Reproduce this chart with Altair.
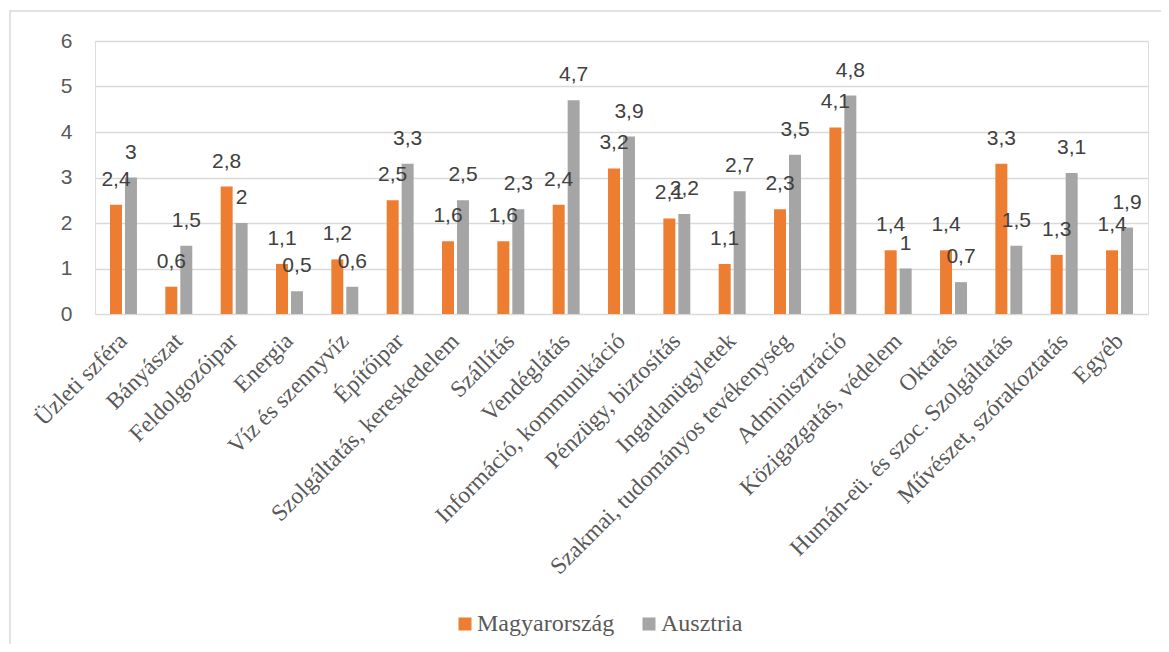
import altair as alt
import pandas as pd

categories = [
    "Üzleti szféra", "Bányászat", "Feldolgozóipar", "Energia", "Víz és szennyvíz",
    "Építőipar", "Szolgáltatás, kereskedelem", "Szállítás", "Vendéglátás",
    "Információ, kommunikáció", "Pénzügy, biztosítás", "Ingatlanügyletek",
    "Szakmai, tudományos tevékenység", "Adminisztráció", "Közigazgatás, védelem",
    "Oktatás", "Humán-eü. és szoc. Szolgáltatás", "Művészet, szórakoztatás", "Egyéb",
]
magyarorszag = [2.4, 0.6, 2.8, 1.1, 1.2, 2.5, 1.6, 1.6, 2.4, 3.2, 2.1, 1.1, 2.3, 4.1, 1.4, 1.4, 3.3, 1.3, 1.4]
ausztria = [3.0, 1.5, 2.0, 0.5, 0.6, 3.3, 2.5, 2.3, 4.7, 3.9, 2.2, 2.7, 3.5, 4.8, 1.0, 0.7, 1.5, 3.1, 1.9]
series = ["Magyarország", "Ausztria"]
colors = ["#ED7D31", "#A5A5A5"]


def fmt(v):
    s = f"{v:g}"
    return s.replace(".", ",")


rows = []
for c, m, a in zip(categories, magyarorszag, ausztria):
    rows.append({"cat": c, "series": series[0], "value": m, "label": fmt(m)})
    rows.append({"cat": c, "series": series[1], "value": a, "label": fmt(a)})
df = pd.DataFrame(rows)

x_enc = alt.X(
    "cat:N", sort=categories, title=None,
    scale=alt.Scale(paddingInner=0.459, paddingOuter=0.244),
    axis=alt.Axis(
        labelAngle=-45, labelAlign="right", labelBaseline="middle",
        labelFont="Liberation Serif", labelFontSize=23.5, labelColor="#595959",
        labelPadding=23, domain=False, ticks=False, labelLimit=400,
    ),
)
xoff = alt.XOffset("series:N", sort=series, scale=alt.Scale(paddingInner=0.2, paddingOuter=0.1))
y_enc = alt.Y(
    "value:Q", title=None,
    scale=alt.Scale(domain=[0, 6]),
    axis=alt.Axis(
        values=[0, 1, 2, 3, 4, 5, 6], labelFont="Liberation Sans", labelFontSize=21,
        labelColor="#595959", labelPadding=23, domain=False, ticks=False,
        gridColor="#D9D9D9", gridWidth=1.4,
    ),
)

bars = alt.Chart(df).mark_bar().encode(
    x=x_enc,
    xOffset=xoff,
    y=y_enc,
    color=alt.Color(
        "series:N", sort=series, scale=alt.Scale(domain=series, range=colors),
        legend=alt.Legend(
            title=None, orient="none", direction="horizontal", legendX=358, legendY=571,
            symbolType="square", symbolSize=169, symbolStrokeWidth=0,
            labelFont="Liberation Serif", labelFontSize=24, labelColor="#595959",
            labelOffset=0, columnPadding=22, padding=0,
        ),
    ),
)

labels = alt.Chart(df).mark_text(
    font="Liberation Sans", fontSize=21, color="#404040", baseline="middle", dy=-25,
).encode(
    x=alt.X("cat:N", sort=categories),
    xOffset=alt.XOffset("series:N", sort=series),
    y=alt.Y("value:Q"),
    text="label:N",
)

border = alt.Chart(alt.Data(values=[{}])).mark_rect(
    fill="transparent", stroke="#D9D9D9", strokeWidth=1.5,
).encode(
    x=alt.value(-85), x2=alt.value(1300), y=alt.value(-30), y2=alt.value(800),
)

chart = alt.layer(border, bars, labels).properties(
    width=1053, height=273,
    padding={"left": 87, "top": 33, "right": 13, "bottom": 330},
    autosize=alt.AutoSizeParams(type="none"),
).configure_view(stroke=None).configure(background="white")

chart.save("out.html", embed_options={"renderer": "svg", "actions": False})
